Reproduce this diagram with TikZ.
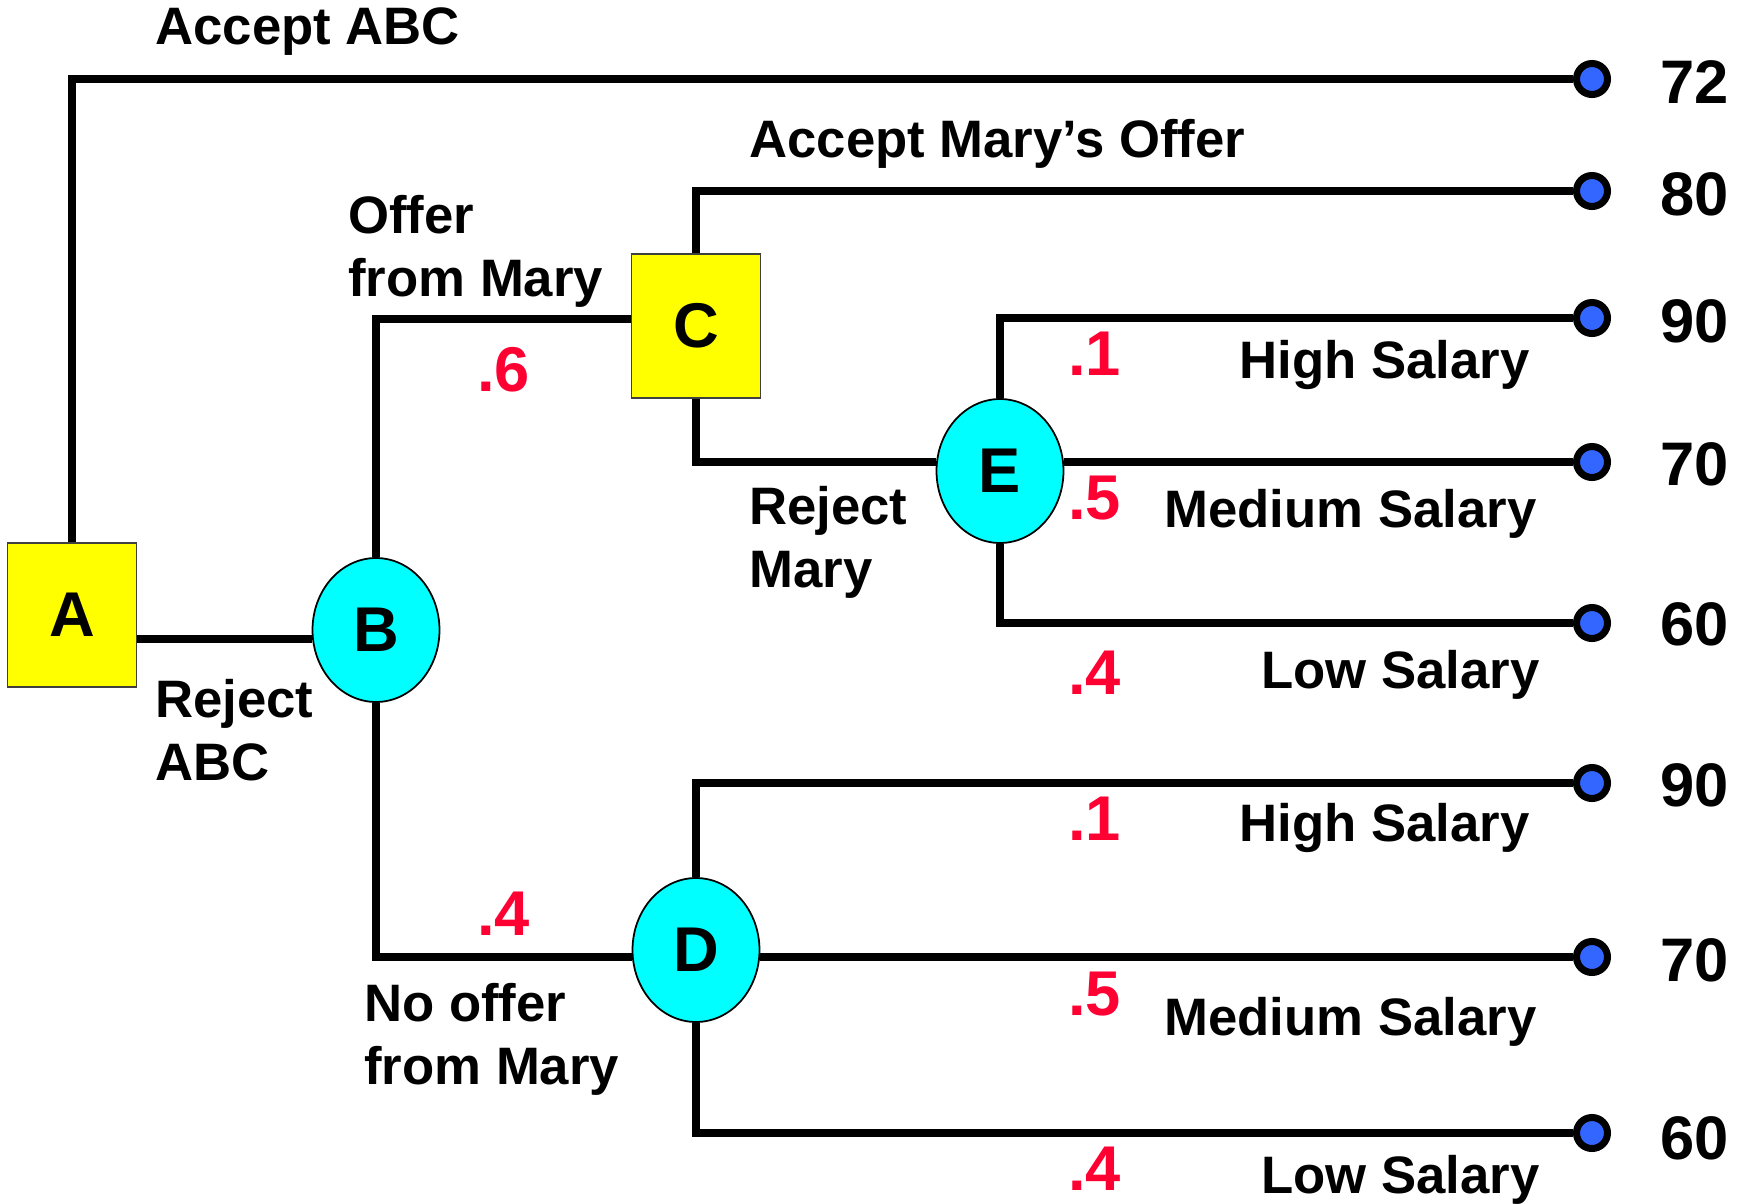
\documentclass[tikz,border=0pt]{standalone}
\usepackage{fontspec}
\setmainfont{Liberation Sans}
\usetikzlibrary{shapes.geometric}
\definecolor{boxyellow}{RGB}{255,255,0}
\definecolor{chancecyan}{RGB}{0,255,255}
\definecolor{leafblue}{RGB}{51,102,255}
\definecolor{probred}{RGB}{255,0,51}
\tikzset{
	decision/.style = {draw = black!75, line width = 1pt, fill = boxyellow,
		minimum width = 2.58cm, minimum height = 2.88cm, inner sep = 0pt,
		font = \fontsize{36}{40}\selectfont\bfseries},
	chance/.style = {ellipse, draw = black, line width = 1pt, fill = chancecyan,
		minimum width = 2.54cm, minimum height = 2.88cm, inner sep = 0pt,
		font = \fontsize{36}{40}\selectfont\bfseries},
	leaf/.style = {circle, draw = black, line width = 4pt, fill = leafblue,
		minimum size = 0.62cm, inner sep = 0pt},
	branch/.style = {line width = 4pt},
	lbl/.style = {inner sep = 0pt, anchor = base west,
		font = \fontsize{30}{36}\selectfont\bfseries},
	lbltwo/.style = {lbl, anchor = north west, align = left},
	prob/.style = {inner sep = 0pt, anchor = base west, text = probred,
		font = \fontsize{36}{40}\selectfont\bfseries},
	payoff/.style = {inner sep = 0pt, anchor = base west,
		font = \fontsize{35}{40}\selectfont\bfseries}
}
\begin{document}
\begin{tikzpicture}[x = 0.02cm, y = -0.02cm]
	\useasboundingbox (0,0) rectangle (1739,1204);
	
	% nodes
	\node[decision] (A) at (72,615) {A};
	\node[chance] (B) at (376,630) {B};
	\node[decision] (C) at (696,326) {C};
	\node[chance] (D) at (696,950) {D};
	\node[chance] (E) at (1000,471) {E};
	
	% end points and payoffs
	\foreach \n/\y/\b/\v in {1/79/103/72, 2/191/215/80, 3/318/342/90, 4/462/485/70,
		5/623/645/60, 6/783/806/90, 7/957/981/70, 8/1133/1159/60} {
		\node[leaf] (t\n) at (1592,\y) {};
		\node[payoff] (v\n) at (1660,\b) {\v};
	}
	
	% branches
	\draw[branch] (A.north) |- (t1);
	\draw[branch] ([yshift = -0.18cm]A.east |- B.west) -- ([yshift = -0.18cm]B.west);
	\draw[branch] (B.north) |- ([yshift = 0.14cm]C.west);
	\draw[branch] (C.north) |- (t2);
	\draw[branch] (C.south) |- (t4 -| E.west);
	\draw[branch] (E.north) |- (t3);
	\draw[branch] (E.east |- t4) -- (t4);
	\draw[branch] (E.south) |- (t5);
	\draw[branch] (B.south) |- (t7 -| D.west);
	\draw[branch] (D.north) |- (t6);
	\draw[branch] (D.east |- t7) -- (t7);
	\draw[branch] (D.south) |- (t8);
	
	% labels
	\node[lbl] (accABC) at (155,44) {Accept ABC};
	\node[lbl] (accMary) at (749,157) {Accept Mary’s Offer};
	\node[lbltwo] (offMary) at (348,195) {Offer\\from Mary};
	\node[lbltwo] (rejABC) at (155,679) {Reject\\ABC};
	\node[lbltwo] (rejMary) at (749,486) {Reject\\Mary};
	\node[lbltwo] (noOffer) at (364,983) {No offer\\from Mary};
	\node[lbl] (hiE) at (1239,378) {High Salary};
	\node[lbl] (medE) at (1164,527) {Medium Salary};
	\node[lbl] (loE) at (1261,688) {Low Salary};
	\node[lbl] (hiD) at (1239,841) {High Salary};
	\node[lbl] (medD) at (1164,1035) {Medium Salary};
	\node[lbl] (loD) at (1261,1193) {Low Salary};
	
	% probabilities
	\node[prob] (pOffer) at (477,391) {.6};
	\node[prob] (pNoOffer) at (477,935) {.4};
	\node[prob] (pHiE) at (1068,375) {.1};
	\node[prob] (pMedE) at (1068,519) {.5};
	\node[prob] (pLoE) at (1068,694) {.4};
	\node[prob] (pHiD) at (1068,840) {.1};
	\node[prob] (pMedD) at (1068,1015) {.5};
	\node[prob] (pLoD) at (1068,1190) {.4};
	
\end{tikzpicture}
\end{document}
